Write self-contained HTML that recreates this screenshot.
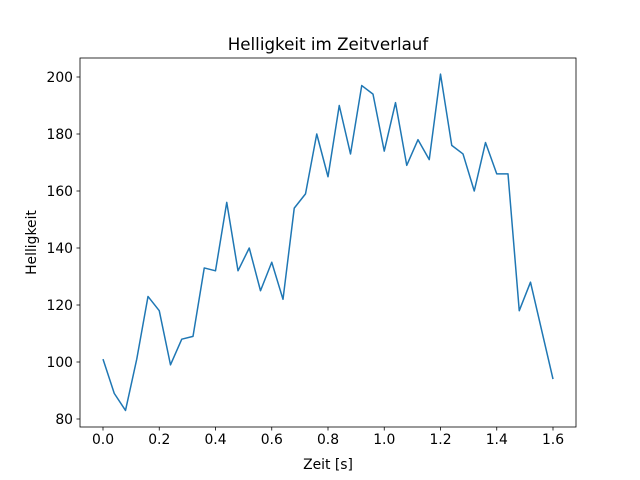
<!DOCTYPE html>
<html><head><meta charset="utf-8"><style>
body{margin:0;background:#fff}
svg{display:block;font-family:"DejaVu Sans","Liberation Sans",sans-serif}
</style></head><body>
<svg id="c" width="640" height="480">
<rect width="640" height="480" fill="#fff"/>
</svg>
<script>
const times = [0,0.04,0.08,0.12,0.16,0.2,0.24,0.28,0.32,0.36,0.4,0.44,0.48,0.52,0.56,0.6,0.64,0.68,0.72,0.76,0.8,0.84,0.88,0.92,0.96,1.0,1.04,1.08,1.12,1.16,1.2,1.24,1.28,1.32,1.36,1.4,1.44,1.48,1.52,1.56,1.6];
const brightness = [101,89,83,101,123,118,99,108,109,133,132,156,132,140,125,135,122,154,159,180,165,190,173,197,194,174,191,169,178,171,201,176,173,160,177,166,166,118,128,111,94];
const xTicks = [0,0.2,0.4,0.6,0.8,1.0,1.2,1.4,1.6];
const xTickLabels = ["0.0","0.2","0.4","0.6","0.8","1.0","1.2","1.4","1.6"];
const yTicks = [80,100,120,140,160,180,200];

const svg = document.getElementById('c');
const NS = 'http://www.w3.org/2000/svg';
const L=80,R=576,T=58,B=427;
const xs = v => 103 + v*(553-103)/1.6;
const ys = v => 77 + (200-v)*(419-77)/120;
function mk(tag, attrs, text){const e=document.createElementNS(NS,tag);for(const k in attrs)e.setAttribute(k,attrs[k]);if(text!==undefined)e.textContent=text;svg.appendChild(e);return e;}

const line = mk('polyline',{points:times.map((t,i)=>xs(t)+','+ys(brightness[i])).join(' '),fill:'none',stroke:'#1f77b4','stroke-width':1.5,'stroke-linejoin':'round'});



const frame = mk('rect',{x:L,y:T,width:R-L,height:B-T,fill:'none',stroke:'#000','stroke-width':0.8});



xTicks.forEach((v,i)=>{
  const x=xs(v);
  const t=mk('line',{x1:x,x2:x,y1:B,y2:B+3.5,stroke:'#000','stroke-width':0.8});
  
  
  const l=mk('text',{x:x,y:B+17,'font-size':13.9,'text-anchor':'middle'},xTickLabels[i]);
  
  
});
yTicks.forEach(v=>{
  const y=ys(v);
  const t=mk('line',{x1:L-3.5,x2:L,y1:y,y2:y,stroke:'#000','stroke-width':0.8});
  
  
  const l=mk('text',{x:L-7,y:y+5,'font-size':13.9,'text-anchor':'end'},String(v));
  
  
});
const title=mk('text',{x:(L+R)/2,y:50,'font-size':16.7,'text-anchor':'middle'},'Helligkeit im Zeitverlauf');


const xt=mk('text',{x:(L+R)/2,y:469,'font-size':13.9,'text-anchor':'middle'},'Zeit [s]');


const yt=mk('text',{x:36,y:(T+B)/2,'font-size':13.9,'text-anchor':'middle',transform:'rotate(-90 36 '+((T+B)/2)+')'},'Helligkeit');


</script>
</body></html>
